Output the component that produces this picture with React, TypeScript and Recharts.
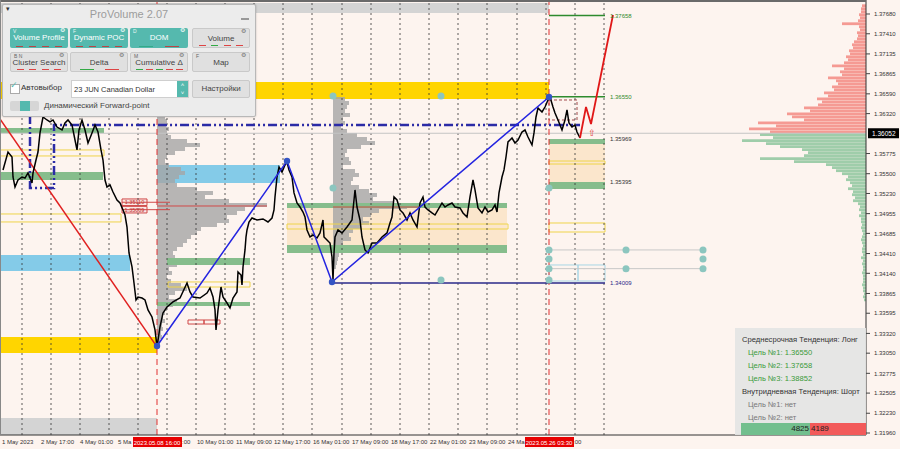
import React from 'react';
import { ComposedChart, Line, XAxis, YAxis, ReferenceArea, ReferenceLine, ReferenceDot } from 'recharts';

const W = 900;
const H = 449;
const T_MAX = 866;
const P_MIN = 1.31933;
const P_MAX = 1.37871;

// USDCAD H1 closes, [bar slot, price]
const closesEarly: [number, number][] = [
  [3, 1.35551], [8, 1.35796], [12, 1.35728], [13, 1.35455], [15, 1.35318], [18, 1.35414], [22, 1.35455],
  [25, 1.35441], [28, 1.3551], [32, 1.35373], [33, 1.3551], [36, 1.35687], [38, 1.35796], [40, 1.36056],
  [43, 1.36274], [47, 1.36233], [50, 1.36206], [53, 1.36233], [57, 1.36137], [62, 1.36097], [65, 1.36192],
  [68, 1.36233], [72, 1.36165], [75, 1.3596], [77, 1.35824], [79, 1.36097], [82, 1.36233], [85, 1.36097],
  [88, 1.35919], [92, 1.36056], [95, 1.36165], [98, 1.36069], [101, 1.35824], [103, 1.35687], [105, 1.35414],
  [107, 1.35318], [110, 1.35346], [113, 1.3525], [117, 1.35141], [120, 1.351], [123, 1.35005], [125, 1.34936],
  [127, 1.34772], [129, 1.34418], [132, 1.34227], [134, 1.34008], [136, 1.33776], [138, 1.33817], [142, 1.33803],
  [145, 1.33776], [148, 1.3364], [152, 1.33544], [155, 1.33367], [157, 1.33135],
];
const closesMid: [number, number][] = [
  [160, 1.33408], [163, 1.33599], [167, 1.3368], [173, 1.33749], [180, 1.33803], [187, 1.34008], [190, 1.33885],
  [193, 1.33817], [200, 1.33803], [207, 1.33871], [210, 1.3394], [213, 1.33817], [215, 1.3364], [216, 1.33367],
  [218, 1.3364], [221, 1.33953], [223, 1.33817], [227, 1.33735], [230, 1.33667], [233, 1.33803], [237, 1.33885],
  [238, 1.34158], [241, 1.34117], [242, 1.33981], [243, 1.34227], [245, 1.34459], [246, 1.34636], [247, 1.34732],
  [249, 1.34841], [252, 1.34895], [257, 1.34868], [263, 1.34882], [268, 1.34841], [272, 1.34895], [274, 1.35005],
  [275, 1.35182], [277, 1.35455], [279, 1.35591], [282, 1.35523], [285, 1.35619], [287, 1.3566], [289, 1.35551],
  [292, 1.35455], [294, 1.35237], [297, 1.351], [300, 1.35045], [303, 1.34977], [305, 1.34909], [307, 1.34732],
  [310, 1.34636], [313, 1.34663], [317, 1.34622], [320, 1.34691], [323, 1.34868], [324, 1.34636], [327, 1.34595],
  [330, 1.34554], [332, 1.34363], [333, 1.34049],
];
const closesLate: [number, number][] = [
  [334, 1.34418], [335, 1.34636], [338, 1.34732], [342, 1.34691], [347, 1.34772], [352, 1.34868], [355, 1.35278],
  [357, 1.35045], [360, 1.34868], [362, 1.34636], [365, 1.34459], [368, 1.34418], [372, 1.34554], [377, 1.34554],
  [382, 1.34636], [387, 1.34691], [390, 1.34827], [392, 1.34909], [394, 1.35182], [397, 1.35141], [400, 1.35005],
  [403, 1.34964], [407, 1.34868], [410, 1.34964], [413, 1.34868], [417, 1.34772], [420, 1.351], [423, 1.35182],
  [425, 1.35045], [428, 1.35005], [432, 1.34964], [435, 1.34936], [438, 1.35005], [442, 1.351], [445, 1.35045],
  [448, 1.35073], [452, 1.351], [455, 1.35045], [460, 1.35032], [463, 1.34964], [467, 1.34909], [470, 1.35182],
  [473, 1.35414], [475, 1.35278], [478, 1.35032], [482, 1.34964], [485, 1.35045], [488, 1.34977], [492, 1.35005],
  [495, 1.35073], [497, 1.34977], [499, 1.35237], [502, 1.35455], [504, 1.35551], [506, 1.35728], [508, 1.35933],
  [512, 1.35987], [515, 1.35919], [518, 1.3596], [522, 1.36069], [525, 1.36097], [528, 1.36001], [532, 1.35892],
  [534, 1.36056], [536, 1.36274], [538, 1.36397], [542, 1.36342], [545, 1.3641], [548, 1.36506], [550, 1.36547],
  [553, 1.3641], [555, 1.36329], [558, 1.36233], [562, 1.36097], [565, 1.36233], [567, 1.3637], [569, 1.36192],
  [572, 1.36137], [575, 1.36165], [577, 1.36069], [580, 1.35987],
];

const zigzag: [number, number][] = [[157, 1.33148], [287, 1.35673], [332, 1.34022], [549, 1.36547]];
const trendDown: [number, number][] = [[0, 1.36247], [157, 1.33135]];
const forecast: [number, number][] = [[580, 1.35987], [586, 1.3641], [591, 1.36178], [613, 1.37666]];
const rangeBox: [number, number][] = [[30, 1.36301], [30, 1.35305], [54, 1.35305], [54, 1.36165], [580, 1.36165]];

// zones [t1, t2, low, high]
const yellowZones = [[0, 549, 1.3652, 1.36752], [0, 157, 1.33053, 1.33271]];
const blueZones = [[0, 130, 1.34172, 1.3439], [157, 280, 1.35373, 1.35619]];
const greenZones = [
  [0, 104, 1.36056, 1.36124], [0, 103, 1.35414, 1.35523], [167, 250, 1.34254, 1.34349], [157, 250, 1.33694, 1.33749],
  [287, 507, 1.35032, 1.351], [287, 507, 1.34418, 1.34527], [549, 605, 1.35905, 1.35974], [549, 605, 1.35291, 1.35387],
];
const peachZones = [[287, 507, 1.34527, 1.35032], [549, 605, 1.35387, 1.35905]];
const grayZones = [[0, 549, 1.37694, 1.3783], [0, 157, P_MIN, 1.32165]];
const yellowBoxes = [
  [0, 104, 1.35742, 1.35824], [0, 121, 1.34841, 1.3495], [168, 250, 1.33953, 1.34022],
  [287, 508, 1.34745, 1.34813], [549, 605, 1.35632, 1.35673], [549, 605, 1.34704, 1.34827],
];
const blueBoxes = [[549, 578, 1.34035, 1.34254], [578, 605, 1.34035, 1.34254]];
const redBoxes = [[188, 204, 1.33448, 1.33503], [204, 220, 1.33448, 1.33503]];
const brownBox = [549, 577, 1.36233, 1.36506];

const priceTags: [number, number, number][] = [[122, 147, 1.3511], [122, 147, 1.35009]];
const pocLines = [[157, 267, 1.35059], [333, 420, 1.35045]];
const targetLines = [[549, 605, 1.37658], [549, 605, 1.3655]];
const supportLine = [331, 605, 1.34009];
const levelTexts: [number, string][] = [
  [1.37658, '1.37658'], [1.3655, '1.36550'], [1.35969, '1.35969'], [1.35395, '1.35395'], [1.34009, '1.34009'],
];
const fanLines = [[549, 703, 1.34459], [549, 703, 1.34204]];
const anchorDots: [number, number][] = [
  [333, 1.36561], [441, 1.36561], [333, 1.35305], [549, 1.35305], [441, 1.34049], [549, 1.34049],
  [549, 1.34459], [626, 1.34459], [703, 1.34459], [549, 1.34336], [703, 1.34336],
  [549, 1.34204], [626, 1.34204], [703, 1.34204],
];

const curPrice = 1.36052;
// market profile on the right, bins of 0.00041 from current price
const binStep = 0.00041;
const askVolume = [
  96, 117, 90, 108, 62, 74, 79, 56, 62, 48, 44, 49, 38, 42, 32, 34, 28, 30, 38, 24, 26, 22, 34, 22, 18, 20,
  16, 17, 13, 14, 12, 9, 8, 9, 6, 7, 24, 8, 6, 7, 5, 5, 4,
];
const bidVolume = [
  106, 93, 124, 100, 86, 64, 58, 62, 106, 72, 40, 34, 30, 24, 18, 20, 16, 14, 18, 13, 14, 11, 13, 8, 6, 7,
  5, 7, 5, 5, 4, 5, 4, 3, 4, 5, 4, 3, 4, 4, 3, 5, 3, 4, 3, 3, 4, 3, 3, 3, 4, 3, 3, 2, 3, 2,
];
// session volume profiles
const sessionStep = 0.000546;
const sessionA = { start: 157, top: 1.36301 };
const sessionAVol = [
  8, 10, 9, 12, 10, 14, 30, 43, 28, 18, 10, 8, 12, 24, 28, 22, 18, 20, 40, 56, 48, 72, 110, 88, 80, 70, 72, 60,
  44, 40, 34, 30, 26, 20, 16, 18, 14, 20, 12, 15, 10, 14, 24, 30, 18, 12, 20, 16, 10, 8, 6, 8, 5, 6, 4, 5, 3,
];
const sessionB = { start: 333, top: 1.36547 };
const sessionBVol = [
  12, 16, 14, 12, 17, 10, 12, 8, 14, 24, 34, 42, 28, 14, 12, 16, 18, 10, 22, 26, 20, 18, 26, 36, 44, 40, 60,
  74, 46, 38, 30, 36, 28, 20, 16, 18, 10, 8, 12, 6, 5, 4, 3,
];

const gridTimes = [22, 51, 80, 109, 138, 167, 196, 225, 254, 283, 312, 342, 371, 400, 429, 458, 487, 517, 546, 575, 604];
// visible part of each time label (the red stamps hide the rest)
const xTickPos = [2, 41, 80, 118, 182, 197, 236, 274, 313, 352, 391, 430, 469, 508, 573];
const xTickText = [
  '1 May 2023', '2 May 17:00', '4 May 01:00', '5 Ma', ':00', '10 May 01:00', '11 May 09:00',
  '12 May 17:00', '16 May 01:00', '17 May 09:00', '18 May 17:00', '22 May 01:00', '23 May 09:00', '24 Ma', ':00',
];
const timeStamps: [number, string][] = [[157, '2023.05.08 16:00'], [549, '2023.05.26 03:30']];
const yTicks = [
  1.3768, 1.3741, 1.37135, 1.36865, 1.3659, 1.3632, curPrice, 1.35775, 1.355, 1.3523, 1.34955, 1.34685, 1.3441,
  1.3414, 1.33865, 1.33595, 1.3332, 1.3305, 1.32775, 1.32505, 1.3223, 1.3196,
];

const toPts = (a: [number, number][]) => a.map(([t, p]) => ({ t, p }));
const closes = toPts([...closesEarly, ...closesMid, ...closesLate]);

const XTick = (props: any) => {
  const { x, payload } = props;
  const v = payload.value;
  const i = xTickPos.indexOf(v);
  const stamp = timeStamps.find((s) => s[0] === v);
  return (
    <g>
      {i >= 0 && (
        <text x={x} y={444} fontSize={6} fill="#333">{xTickText[i]}</text>
      )}
      {stamp && (
        <g>
          <rect x={x - 24} y={437} width={49} height={10} fill="#e80000" />
          <text x={x} y={444.5} fontSize={6} fill="#fff" textAnchor="middle">{stamp[1]}</text>
        </g>
      )}
    </g>
  );
};

const YTick = (props: any) => {
  const { y, payload } = props;
  const v = payload.value;
  if (Math.abs(v - curPrice) < 1e-7) {
    return (
      <g>
        <rect x={868} y={y - 5} width={31} height={10} fill="#000" />
        <text x={872} y={y + 2.5} fontSize={6.5} fill="#fff">{v.toFixed(5)}</text>
      </g>
    );
  }
  return (
    <g>
      <line x1={866} x2={870} y1={y} y2={y} stroke="#444" />
      <text x={874} y={y + 2.2} fontSize={6} fill="#333">{v.toFixed(5)}</text>
    </g>
  );
};

const TEAL = '#55b9ae';

const panelButtons = [
  { x: 9, y: 27, label: 'Volume Profile', tag: 'V', on: true, marks: ['#b44', '#b44', '#b44', '#b44'] },
  { x: 69, y: 27, label: 'Dynamic POC', tag: 'F', on: true, marks: ['#b44', '#b44', '#b44', '#b44'] },
  { x: 129, y: 27, label: 'DOM', tag: 'D', on: true, marks: ['#3a8', '#b44'] },
  { x: 191, y: 27, label: 'Volume', tag: '', on: false, marks: ['#d44', '#3a4', '#d44', '#d44'] },
  { x: 9, y: 51, label: 'Cluster Search', tag: 'B  N', on: false, marks: ['#d44', '#d44', '#d44', '#d44'] },
  { x: 69, y: 51, label: 'Delta', tag: '', on: false, marks: ['#3a4', '#d44'] },
  { x: 129, y: 51, label: 'Cumulative Δ', tag: 'M', on: false, marks: ['#3a4', '#d44', '#3a4', '#d44', '#d44'] },
  { x: 191, y: 51, label: 'Map', tag: 'F', on: false, marks: [] as string[] },
];

function Panel() {
  const abs = { position: 'absolute' as const };
  return (
    <div style={{ ...abs, left: 2, top: 4, width: 252, height: 111, background: '#ececec', border: '1px solid #b8b8b8', borderRadius: 2, boxShadow: '0 0 2px rgba(0,0,0,0.25)', fontFamily: '"Liberation Sans", Arial, sans-serif' }}>
      <div style={{ ...abs, left: 3, top: 0, fontSize: 7, color: '#333' }}>▾</div>
      <div style={{ ...abs, left: 0, width: 252, top: 3, textAlign: 'center', fontSize: 11, color: '#9c9c9c' }}>ProVolume 2.07</div>
      <div style={{ ...abs, left: 238, top: 13, width: 8, height: 1.5, background: '#999' }} />
      {panelButtons.map((b) => (
        <div key={b.label} style={{ ...abs, left: b.x - 2, top: b.y - 4, width: 58, height: 20, background: b.on ? TEAL : '#e0e0e0', border: b.on ? 'none' : '1px solid #c9c9c9', borderRadius: 2, boxSizing: 'border-box' }}>
          <div style={{ ...abs, left: 3, top: 0, fontSize: 5, color: b.on ? '#e8f6f4' : '#666' }}>{b.tag}</div>
          <div style={{ ...abs, right: 3, top: -1, fontSize: 5.5, color: b.on ? '#fff' : '#777' }}>⚙</div>
          <div style={{ ...abs, left: 0, width: '100%', top: 5, textAlign: 'center', fontSize: 8, color: b.on ? '#fff' : '#444' }}>{b.label}</div>
          <div style={{ ...abs, left: 3, right: 3, bottom: 1, display: 'flex', justifyContent: 'space-around' }}>
            {b.marks.map((c, i) => (
              <div key={i} style={{ width: b.marks.length === 2 ? 14 : 7, height: 1.3, background: c }} />
            ))}
          </div>
        </div>
      ))}
      <div style={{ ...abs, left: 7, top: 79, width: 8, height: 8, background: '#fff', border: '1px solid #aaa' }} />
      <div style={{ ...abs, left: 7, top: 75, fontSize: 9, color: TEAL }}>✓</div>
      <div style={{ ...abs, left: 18, top: 78, fontSize: 8, color: '#333' }}>Автовыбор</div>
      <div style={{ ...abs, left: 68, top: 75, width: 118, height: 18, background: '#fff', border: '1px solid #cfcfcf', boxSizing: 'border-box' }}>
        <div style={{ ...abs, left: 2, top: 4, fontSize: 7.5, color: '#333' }}>23 JUN Canadian Dollar</div>
        <div style={{ ...abs, right: 0, top: 0, width: 11, height: 16, background: TEAL, color: '#fff', fontSize: 6, textAlign: 'center', lineHeight: '8px' }}>˄<br />˅</div>
      </div>
      <div style={{ ...abs, left: 189, top: 75, width: 58, height: 18, background: '#e0e0e0', border: '1px solid #c9c9c9', boxSizing: 'border-box', borderRadius: 2, textAlign: 'center', fontSize: 8, lineHeight: '16px', color: '#444' }}>Настройки</div>
      <div style={{ ...abs, left: 7, top: 96, width: 29, height: 10, background: '#d6d6d6', borderRadius: 2 }}>
        <div style={{ ...abs, left: 10, top: 0, width: 10, height: 10, background: TEAL }} />
      </div>
      <div style={{ ...abs, left: 41, top: 96, fontSize: 8, color: '#444' }}>Динамический Forward-point</div>
    </div>
  );
}

const trendInfo: [string, string][] = [
  ['Среднесрочная Тенденция: Лонг', 'head'],
  ['Цель №1: 1.36550', 'goal'],
  ['Цель №2: 1.37658', 'goal'],
  ['Цель №3: 1.38852', 'goal'],
  ['Внутридневная Тенденция: Шорт', 'head'],
  ['Цель №1: нет', 'none'],
  ['Цель №2: нет', 'none'],
];
const deltaBuy = 4825;
const deltaSell = 4189;

function InfoBox() {
  const abs = { position: 'absolute' as const };
  const colors: Record<string, string> = { head: '#333', goal: '#3a9a3a', none: '#777' };
  return (
    <div style={{ ...abs, left: 735, top: 328, width: 131, height: 107, background: 'rgba(228,228,228,0.92)', fontFamily: '"Liberation Sans", Arial, sans-serif' }}>
      {trendInfo.map(([txt, kind], i) => (
        <div key={i} style={{ ...abs, left: kind === 'head' ? 7 : 13, top: 7 + i * 13, fontSize: 7.6, color: colors[kind], whiteSpace: 'nowrap' }}>{txt}</div>
      ))}
      <div style={{ ...abs, left: 6, top: 95, width: 69, height: 12, background: '#72bf8e', fontSize: 8, color: '#222', textAlign: 'right', lineHeight: '12px', paddingRight: 1, boxSizing: 'border-box' }}>{deltaBuy}</div>
      <div style={{ ...abs, left: 75, top: 95, width: 56, height: 12, background: '#f25a5a', fontSize: 8, color: '#222', lineHeight: '12px', paddingLeft: 1, boxSizing: 'border-box' }}>{deltaSell}</div>
    </div>
  );
}

export default function App() {
  const zone = (z: number[], key: string, fill: string, extra: any = {}) => (
    <ReferenceArea key={key} x1={z[0]} x2={z[1]} y1={z[2]} y2={z[3]} fill={fill} fillOpacity={1} stroke="none" ifOverflow="hidden" {...extra} />
  );
  return (
    <div style={{ position: 'absolute', left: 0, top: 0, width: W, height: H, background: '#fdf4ef', overflow: 'hidden', fontFamily: '"Liberation Sans", Arial, sans-serif' }}>
      <ComposedChart width={W} height={H} margin={{ top: 0, right: 0, bottom: 0, left: 0 }}>
        <XAxis dataKey="t" type="number" domain={[0, T_MAX]} ticks={[...xTickPos, 157, 549].sort((a, b) => a - b)} interval={0} tick={<XTick />} tickLine={false} height={14} axisLine={{ stroke: '#333' }} allowDataOverflow />
        <YAxis orientation="right" type="number" domain={[P_MIN, P_MAX]} ticks={yTicks} interval={0} tick={<YTick />} tickLine={false} width={34} axisLine={{ stroke: '#333' }} allowDataOverflow />

        {gridTimes.map((t) => (
          <ReferenceLine key={'g' + t} x={t} stroke="#333" strokeDasharray="2 3" strokeWidth={0.8} />
        ))}
        {grayZones.map((z, i) => zone(z, 'gz' + i, '#d4d4d4'))}
        {peachZones.map((z, i) => zone(z, 'pz' + i, '#fbe6cc'))}
        {yellowZones.map((z, i) => zone(z, 'yz' + i, '#ffd500'))}
        {blueZones.map((z, i) => zone(z, 'bz' + i, '#84cbe8'))}

        {askVolume.map((v, i) => zone([T_MAX - v, T_MAX, curPrice + i * binStep, curPrice + (i + 1) * binStep - 0.00003], 'a' + i, '#f59a93'))}
        {bidVolume.map((v, i) => zone([T_MAX - v, T_MAX, curPrice - (i + 1) * binStep + 0.00003, curPrice - i * binStep], 'b' + i, '#9fcdaa'))}
        {sessionAVol.map((v, i) => zone([sessionA.start, sessionA.start + v, sessionA.top - (i + 1) * sessionStep, sessionA.top - i * sessionStep], 'sa' + i, '#a5a5a5', { fillOpacity: 0.8 }))}
        {sessionBVol.map((v, i) => zone([sessionB.start, sessionB.start + v, sessionB.top - (i + 1) * sessionStep, sessionB.top - i * sessionStep], 'sb' + i, '#a5a5a5', { fillOpacity: 0.8 }))}

        {greenZones.map((z, i) => zone(z, 'gr' + i, '#86bd8c'))}
        {yellowBoxes.map((z, i) => zone(z, 'yb' + i, 'none', { stroke: '#efd44a', strokeWidth: 1 }))}
        {blueBoxes.map((z, i) => zone(z, 'bb' + i, 'none', { stroke: '#a9d6e6', strokeWidth: 1 }))}
        {redBoxes.map((z, i) => zone(z, 'rb' + i, 'none', { stroke: '#d04848', strokeWidth: 1 }))}
        {zone(brownBox, 'brown', 'none', { stroke: '#a04a4a', strokeWidth: 1, strokeDasharray: '3 2' })}

        <ReferenceLine y={curPrice} stroke="#c4c4c4" strokeWidth={1} />
        {pocLines.map((l, i) => (
          <ReferenceLine key={'poc' + i} segment={[{ x: l[0], y: l[2] }, { x: l[1], y: l[2] }]} stroke="#d04848" strokeWidth={1} />
        ))}
        {priceTags.map((p, i) => (
          <ReferenceLine key={'ptl' + i} segment={[{ x: p[0], y: p[2] }, { x: 170, y: p[2] }]} stroke="#d04848" strokeWidth={1} />
        ))}
        {priceTags.map((p, i) => zone([p[0], p[1], p[2] - 0.00045, p[2] + 0.00045], 'pt' + i, '#fbe9e6', {
          stroke: '#d04848', strokeWidth: 1, label: { value: p[2].toFixed(5), position: 'center', fontSize: 5.5, fill: '#c03030' },
        }))}
        {targetLines.map((l, i) => (
          <ReferenceLine key={'tl' + i} segment={[{ x: l[0], y: l[2] }, { x: l[1], y: l[2] }]} stroke="#2e8b2e" strokeWidth={1.5} />
        ))}
        <ReferenceLine segment={[{ x: supportLine[0], y: supportLine[2] }, { x: supportLine[1], y: supportLine[2] }]} stroke="#2a2a8a" strokeWidth={1.5} />
        {fanLines.map((l, i) => (
          <ReferenceLine key={'fl' + i} segment={[{ x: l[0], y: l[2] }, { x: l[1], y: l[2] }]} stroke="#c8c8c8" strokeWidth={1} />
        ))}
        <ReferenceLine x={157} stroke="#e03030" strokeDasharray="6 4" strokeWidth={1} />
        <ReferenceLine x={549} stroke="#e03030" strokeDasharray="6 4" strokeWidth={1} />

        <Line data={toPts(rangeBox)} dataKey="p" stroke="#2b2ba6" strokeWidth={2.5} strokeDasharray="9 3 2 3 2 3" dot={false} isAnimationActive={false} type="linear" />
        <Line data={toPts(trendDown)} dataKey="p" stroke="#e02020" strokeWidth={1.5} dot={false} isAnimationActive={false} type="linear" />
        <Line data={closes} dataKey="p" stroke="#000" strokeWidth={1.5} dot={false} isAnimationActive={false} type="linear" />
        <Line data={toPts(zigzag)} dataKey="p" stroke="#2424e0" strokeWidth={1.5} dot={false} isAnimationActive={false} type="linear" />
        <Line data={toPts(forecast)} dataKey="p" stroke="#e01818" strokeWidth={1.8} dot={false} isAnimationActive={false} type="linear" />

        {anchorDots.map(([t, p], i) => (
          <ReferenceDot key={'ad' + i} x={t} y={p} r={3.5} fill="#8cc6bf" stroke="none" />
        ))}
        {zigzag.map(([t, p], i) => (
          <ReferenceDot key={'zz' + i} x={t} y={p} r={3.2} fill="#3454c4" stroke="none" />
        ))}
        {levelTexts.map(([p, txt], i) => (
          <ReferenceDot key={'lt' + i} x={605} y={p} r={0} stroke="none" fill="none"
            label={{ value: txt, position: 'right', fontSize: 6, fill: i < 2 ? '#2e8b2e' : i === 4 ? '#2a2a8a' : '#333' }} />
        ))}
        <ReferenceDot x={592} y={curPrice} r={0} stroke="none" fill="none" label={{ value: '⇧', position: 'center', fontSize: 9, fill: '#e04040' }} />
      </ComposedChart>
      <div style={{ position: 'absolute', left: 0, top: 0, width: 866, height: 2, background: '#6a6a6a' }} />
      <div style={{ position: 'absolute', left: 0, top: 0, width: 1, height: 435, background: '#888' }} />
      <Panel />
      <InfoBox />
    </div>
  );
}
